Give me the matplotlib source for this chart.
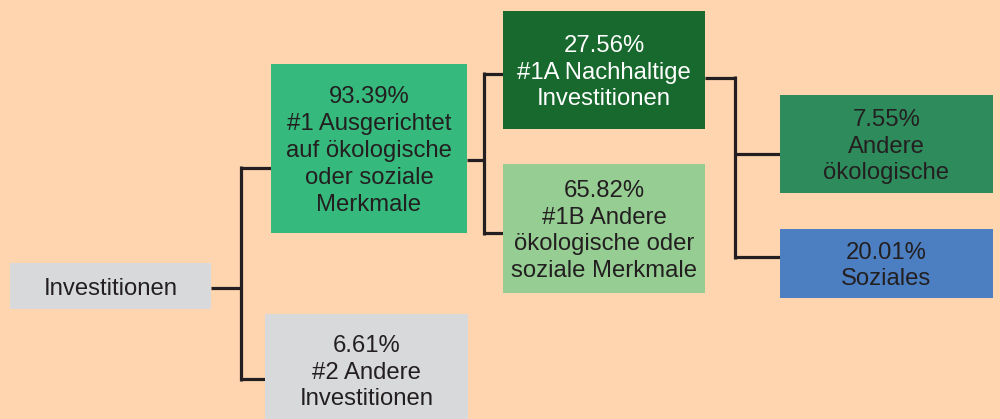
import matplotlib
matplotlib.use("Agg")
import matplotlib.pyplot as plt
from matplotlib.patches import Rectangle
from matplotlib import font_manager as fm

# pick the regular (non-narrow) Liberation Sans file explicitly
font_file = None
for f in fm.findSystemFonts():
    base = f.split("/")[-1]
    if base == "LiberationSans-Regular.ttf":
        font_file = f
        break
if font_file:
    fm.fontManager.addfont(font_file)
    fam = fm.FontProperties(fname=font_file).get_name()
    plt.rcParams['font.family'] = [fam, 'DejaVu Sans']
else:
    plt.rcParams['font.family'] = ['Liberation Sans', 'DejaVu Sans']

# Data
node_names = ["root", "n1", "n2", "n1A", "n1B", "n_env", "n_soc"]
percentages = [None, 93.39, 6.61, 27.56, 65.82, 7.55, 20.01]
labels = [
    "Investitionen",
    "#1 Ausgerichtet\nauf ökologische\noder soziale\nMerkmale",
    "#2 Andere\nInvestitionen",
    "#1A Nachhaltige\nInvestitionen",
    "#1B Andere\nökologische oder\nsoziale Merkmale",
    "Andere\nökologische",
    "Soziales",
]
edges = [("root", ["n1", "n2"]), ("n1", ["n1A", "n1B"]), ("n1A", ["n_env", "n_soc"])]

# Layout (pixel coordinates: x0, y0, x1, y1)
boxes = {
    "root": (10, 263, 211, 309),
    "n1": (271, 64, 467, 233),
    "n2": (265, 314, 468, 425),
    "n1A": (503, 11, 705, 129),
    "n1B": (503, 164, 705, 293),
    "n_env": (780, 95, 993, 193),
    "n_soc": (780, 229, 993, 298),
}
fills = {
    "root": "#D8D9DB", "n1": "#35B97C", "n2": "#D8D9DB", "n1A": "#18692D",
    "n1B": "#95CD93", "n_env": "#2E8B5C", "n_soc": "#4C7FC2",
}
text_colors = {k: "#231F20" for k in boxes}
text_colors["n1A"] = "white"
text_center_y = {"n2": 370}
text_shift = 2.5
# connector geometry: (parent exit y, bus x, child entry ys)
connectors = {
    "root": (288, 241, [168, 379]),
    "n1": (160, 484, [74, 233]),
    "n1A": (78, 735, [154, 257]),
}

bg = "#FFD5B0"
line_c = "#231F20"
lw = 2.3

fig = plt.figure(figsize=(10, 4.19), dpi=100, facecolor=bg)
ax = fig.add_axes([0, 0, 1, 1])
ax.set_xlim(0, 1000)
ax.set_ylim(419, 0)
ax.set_facecolor(bg)
ax.axis("off")

for parent, children in edges:
    py, bx, cys = connectors[parent]
    px1 = boxes[parent][2]
    ax.plot([px1, bx + 1], [py, py], color=line_c, lw=lw, solid_capstyle="butt", zorder=1)
    ax.plot([bx, bx], [min(cys + [py]) - 1.5, max(cys + [py]) + 1.5], color=line_c, lw=lw,
            solid_capstyle="butt", zorder=1)
    for c, cy in zip(children, cys):
        ax.plot([bx, boxes[c][0]], [cy, cy], color=line_c, lw=lw, solid_capstyle="butt", zorder=1)

for name, pct, lab in zip(node_names, percentages, labels):
    x0, y0, x1, y1 = boxes[name]
    ax.add_patch(Rectangle((x0, y0), x1 - x0, y1 - y0, facecolor=fills[name],
                           edgecolor="none", zorder=2))
    txt = lab if pct is None else f"{pct:.2f}%\n{lab}"
    cy = text_center_y.get(name, (y0 + y1) / 2) + text_shift
    ax.text((x0 + x1) / 2, cy, txt, ha="center", va="center", fontsize=17.2,
            color=text_colors[name], linespacing=1.28, zorder=3)

fig.savefig("out.png", dpi=100, facecolor=bg)
